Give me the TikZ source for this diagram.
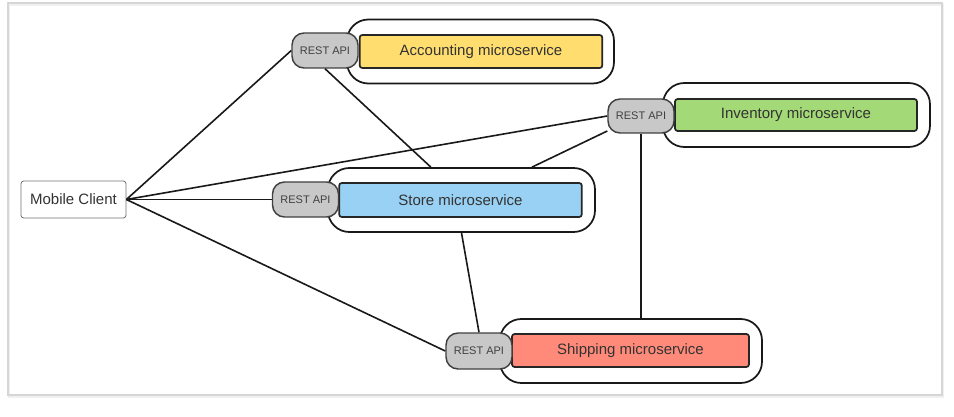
\documentclass[tikz,border=0pt]{standalone}
\usepackage{fontspec}
\setmainfont{Liberation Sans}
\usepackage{tikz}
\usetikzlibrary{positioning}

\definecolor{accyellow}{HTML}{FFDD6F}
\definecolor{storeblue}{HTML}{99D1F4}
\definecolor{invgreen}{HTML}{A3D977}
\definecolor{shipred}{HTML}{FF8A7A}
\definecolor{apigray}{HTML}{C8C8C8}
\definecolor{textgray}{HTML}{333333}

\tikzset{
  group/.style={draw=black!90, line width=1.3pt, rounded corners=16pt, fill=white,
    minimum width=200.25pt, minimum height=48pt, inner sep=0pt},
  service/.style={draw=black!85, line width=1.3pt, rounded corners=2pt,
    minimum width=182pt, minimum height=24.75pt, inner sep=0pt,
    font=\fontsize{11.25}{12}\selectfont, text=textgray},
  restapi/.style={draw=black!75, line width=1.1pt, fill=apigray, rounded corners=9pt,
    minimum width=49.5pt, minimum height=26.25pt, inner sep=0pt,
    font=\fontsize{8.25}{9}\selectfont, text=black!75},
  client/.style={draw=black!55, line width=0.6pt, rounded corners=2pt, fill=white,
    minimum width=78.75pt, minimum height=27.75pt, inner sep=0pt,
    font=\fontsize{11.25}{12}\selectfont, text=textgray},
  link/.style={line width=1.2pt, black!90}
}

\begin{document}
\begin{tikzpicture}[x=0.75pt, y=-0.75pt]

  \useasboundingbox (0,0) rectangle (954,417);
  \fill[white] (0,0) rectangle (954,417);
  % frame with a soft shadow
  \draw[black!6, line width=2pt] (9,5) rectangle (943,397);
  \draw[black!16, line width=0.8pt] (8,3) rectangle (942,395);

  % microservices
  \node[group] (accgroup) at (480.5,51.5) {};
  \node[service, fill=accyellow] (acc) at (481,51.5) {Accounting microservice};
  \node[restapi] (accapi) at (325,50.5) {REST API};

  \node[group] (storegroup) at (461.5,200) {};
  \node[service, fill=storeblue, minimum height=25.5pt] (store) at (460.5,200)
    {Store microservice};
  \node[restapi] (storeapi) at (305.5,199.5) {REST API};

  \node[group] (invgroup) at (796.5,115) {};
  \node[service, fill=invgreen, minimum width=181.5pt, minimum height=24pt] (inv)
    at (796,115) {Inventory microservice};
  \node[restapi, minimum height=25.5pt] (invapi) at (641,116) {REST API};

  \node[group, minimum width=196.5pt] (shipgroup) at (631,351) {};
  \node[service, fill=shipred, minimum width=177.75pt] (ship) at (630.5,350.5)
    {Shipping microservice};
  \node[restapi, minimum height=27pt] (shipapi) at (479,351) {REST API};

  % client
  \node[client] (mobile) at (73.5,199.5) {Mobile Client};

  % connections
  \draw[link] (mobile.east) -- (accapi.west);
  \draw[link] (mobile.east) -- (storeapi.west);
  \draw[link] (mobile.east) -- (invapi.west);
  \draw[link] (mobile.east) -- (shipapi.west);
  \draw[link] (accapi.south) -- (storegroup.133);
  \draw[link] (invapi.204) -- (storegroup.25);
  \draw[link] (invapi.south) -- (invapi.south |- shipgroup.north);
  \draw[link] (storegroup.south) -- (shipapi.north);

\end{tikzpicture}
\end{document}
